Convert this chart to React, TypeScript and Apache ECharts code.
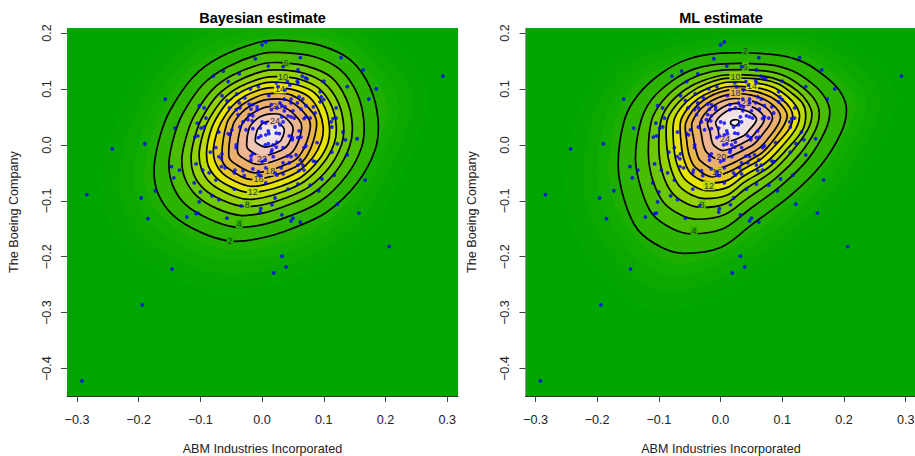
import React, { useEffect, useRef } from "react";
import * as echarts from "echarts";

const xRange = [-0.3162, 0.3175];
const yRange = [-0.449, 0.209];
const xTicks = [-0.3, -0.2, -0.1, 0, 0.1, 0.2, 0.3];
const yTicks = [-0.4, -0.3, -0.2, -0.1, 0, 0.1, 0.2];
const xName = "ABM Industries Incorporated";
const yName = "The Boeing Company";
const titles = ["Bayesian estimate", "ML estimate"];

const returns = [
[-.011,.154],[-.079,.123],[-.063,.132],[-.037,.127],[-.055,.113],[-.157,.082],[-.102,.070],[-.094,.066],[-.065,.088],[-.057,.079],
[-.041,.091],[-.019,.100],[-.006,.104],[-.028,.084],[-.037,.075],[-.053,.066],[-.036,.066],[-.042,.063],[-.039,.054],[-.021,.073],
[-.015,.072],[-.008,.068],[-.018,.064],[-.021,.054],[-.015,.052],[-.008,.063],[-.023,.045],[-.016,.043],[-.031,.041],[-.091,.048],
[-.105,.039],[-.099,.030],[-.094,.032],[-.141,.030],[-.190,.002],[-.243,-.007],[-.109,.014],[-.104,.016],[-.070,.023],[-.055,.020],
[-.052,.018],[-.049,.027],[-.036,.032],[-.026,.027],[-.015,.029],[-.006,.013],[-.042,.000],[-.042,-.005],[-.075,-.005],[.006,.184],
[.000,.179],[.062,.156],[.128,.156],[.164,.134],[.293,.123],[.010,.141],[.034,.140],[.058,.134],[.065,.123],[.070,.120],
[.073,.118],[.100,.114],[.138,.104],[.185,.100],[.173,.082],[.041,.113],[.045,.107],[.057,.114],[.058,.111],[.023,.111],
[.026,.104],[.037,.098],[.094,.095],[.096,.086],[.100,.081],[.094,.077],[.011,.088],[.036,.082],[.047,.082],[.060,.086],
[.066,.082],[.029,.075],[.047,.075],[.057,.075],[.071,.070],[.083,.068],[.015,.072],[.032,.070],[.037,.068],[.024,.066],
[.015,.063],[.036,.061],[.050,.061],[.063,.064],[.086,.057],[.120,.066],[.042,.052],[.047,.050],[.052,.048],[.071,.050],
[.068,.047],[.078,.048],[.032,.050],[.034,.041],[.029,.036],[.000,.041],[.006,.039],[.120,.048],[.115,.047],[.112,.041],
[.113,.032],[.021,.032],[.060,.025],[-.003,.030],[.011,.020],[.006,.018],[.023,.021],[.028,.020],[-.002,.016],[.044,.016],
[.049,.013],[.049,.009],[.058,.013],[.063,.014],[.131,.023],[.135,.009],[.154,.011],[.122,.002],[.089,.004],[.071,-.002],
[.068,-.005],[.005,.000],[.010,.002],[.018,.000],[.034,-.005],[.023,-.004],[.010,.025],[.024,.005],[.016,-.009],[.113,-.013],
[.138,-.018],[.015,-.013],[.041,-.020],[.047,-.021],[.055,-.018],[.018,-.021],[.062,-.027],[.066,-.036],[.083,-.029],[.086,-.030],
[.005,-.027],[.000,-.030],[.034,-.032],[.044,-.032],[.058,-.036],[.006,-.041],[.031,-.041],[.068,-.045],[.060,-.046],[.021,-.050],
[.034,-.052],[.024,-.054],[-.002,-.055],[.117,-.054],[.097,-.061],[.167,-.063],[.006,-.068],[.058,-.070],[.078,-.072],[.042,-.079],
[.092,-.082],[.021,-.095],[.016,-.107],[.122,-.106],[-.002,-.114],[-.003,-.120],[.157,-.122],[.032,-.125],[.050,-.131],[.047,-.136],
[.062,-.138],[.206,-.182],[.032,-.199],[.039,-.218],[.019,-.229],[-.147,-.039],[-.134,-.045],[-.143,-.059],[-.173,-.082],[-.284,-.089],
[-.196,-.095],[-.185,-.132],[-.146,-.222],[-.107,-.034],[-.096,-.045],[-.086,-.050],[-.084,-.013],[-.070,-.021],[-.065,-.016],[-.066,-.025],
[-.066,-.039],[-.060,-.041],[-.044,-.045],[-.045,-.050],[-.031,-.046],[-.029,-.055],[-.015,-.043],[-.006,-.048],[-.006,-.054],[-.018,-.020],
[-.015,-.016],[-.018,-.027],[-.075,-.063],[-.110,-.068],[-.100,-.084],[-.045,-.079],[-.081,-.091],[-.070,-.098],[-.102,-.102],[-.034,-.109],
[-.122,-.129],[-.107,-.123],[-.104,-.122],[-.057,-.131],[-.194,-.286],[-.292,-.422],
];

// Bayesian panel: outer shading levels, then contours
const bayesA = [[.267,.054],[.146,-.183],[-.081,-.259],[-.251,-.134],[-.222,.080],[-.104,.218],[.130,.249],[.248,.140]];
const bayesB = [[.241,.051],[.133,-.162],[-.072,-.230],[-.224,-.118],[-.198,.074],[-.092,.198],[.118,.225],[.224,.128]];
const bayesC = [[.220,.048],[.122,-.145],[-.064,-.207],[-.202,-.105],[-.178,.069],[-.083,.181],[.109,.206],[.204,.118]];
const bayesD = [[.202,.046],[.112,-.131],[-.057,-.187],[-.184,-.095],[-.162,.065],[-.074,.168],[.100,.191],[.188,.110]];
const bayes2 = [[.188,.044],[.183,-.009],[.154,-.068],[.105,-.120],[.050,-.149],[-.003,-.167],[-.052,-.172],[-.100,-.156],[-.144,-.126],[-.169,-.086],[-.175,-.040],[-.165,.017],[-.149,.062],[-.112,.121],[-.068,.157],[-.003,.184],[.037,.187],[.094,.178],[.143,.152],[.175,.103]];
const bayes4 = [[.165,.041],[.161,-.005],[.136,-.056],[.093,-.102],[.045,-.127],[-.001,-.143],[-.044,-.147],[-.085,-.133],[-.124,-.107],[-.145,-.072],[-.151,-.032],[-.142,.018],[-.128,.057],[-.096,.108],[-.057,.139],[-.001,.163],[.034,.165],[.083,.158],[.126,.135],[.154,.092]];
const bayes6 = [[.146,.038],[.142,-.002],[.120,-.047],[.083,-.086],[.041,-.108],[.001,-.122],[-.036,-.126],[-.073,-.114],[-.106,-.091],[-.125,-.060],[-.130,-.025],[-.122,.018],[-.110,.052],[-.082,.097],[-.049,.124],[.001,.145],[.031,.147],[.075,.140],[.112,.121],[.136,.083]];
const bayes8 = [[.132,.037],[.129,.001],[.109,-.040],[.076,-.075],[.038,-.095],[.002,-.107],[-.031,-.110],[-.064,-.099],[-.094,-.079],[-.111,-.052],[-.115,-.020],[-.108,.018],[-.097,.049],[-.072,.089],[-.042,.113],[.002,.132],[.029,.134],[.068,.128],[.101,.110],[.123,.077]];
const bayes10 = [[.120,.035],[.117,.003],[.099,-.033],[.069,-.065],[.036,-.083],[.003,-.094],[-.027,-.097],[-.056,-.087],[-.083,-.069],[-.098,-.044],[-.102,-.016],[-.096,.019],[-.086,.046],[-.063,.082],[-.036,.104],[.003,.120],[.028,.122],[.062,.117],[.092,.101],[.112,.071]];
const bayes12 = [[.109,.034],[.107,.004],[.091,-.028],[.064,-.057],[.033,-.073],[.004,-.082],[-.023,-.085],[-.049,-.076],[-.073,-.060],[-.087,-.038],[-.090,-.013],[-.085,.019],[-.076,.044],[-.056,.076],[-.032,.096],[.004,.111],[.026,.112],[.058,.107],[.085,.093],[.102,.066]];
const bayes14 = [[.099,.032],[.096,.006],[.082,-.023],[.058,-.048],[.031,-.062],[.005,-.071],[-.019,-.074],[-.042,-.066],[-.064,-.051],[-.076,-.031],[-.079,-.009],[-.074,.019],[-.066,.041],[-.048,.070],[-.027,.088],[.005,.101],[.025,.102],[.053,.098],[.077,.085],[.092,.061]];
const bayes16 = [[.088,.031],[.074,-.017],[.053,-.040],[-.015,-.062],[-.055,-.042],[-.065,-.025],[-.057,.039],[-.041,.064],[-.022,.079],[.006,.091],[.048,.089],[.083,.056]];
const bayes18 = [[.078,.030],[.065,-.012],[.047,-.031],[-.011,-.050],[-.045,-.033],[-.054,-.019],[-.047,.036],[-.033,.058],[-.017,.071],[.007,.081],[.043,.079],[.073,.051]];
const bayes20 = [[.064,.028],[.054,-.005],[.040,-.020],[-.006,-.035],[-.033,-.022],[-.040,-.010],[-.034,.033],[-.023,.050],[-.010,.060],[.008,.068],[.036,.067],[.060,.045]];
const bayes22 = [[.050,.026],[.043,.002],[.032,-.009],[-.001,-.020],[-.020,-.010],[-.025,-.001],[-.021,.030],[-.013,.042],[-.004,.050],[.010,.055],[.030,.054],[.047,.038]];
const bayes24 = [[.036,.024],[.031,.009],[.025,.003],[.005,-.004],[-.007,.002],[-.011,.007],[-.008,.026],[-.003,.034],[.002,.039],[.011,.042],[.024,.041],[.034,.032]];
const bayes25 = [[.024,.022],[.019,.013],[.009,.009],[.002,.015],[.003,.023],[.008,.029],[.018,.030],[.023,.026]];

// ML panel
const mlA = [[.286,.072],[.155,-.148],[-.095,-.299],[-.236,-.161],[-.236,.046],[-.149,.168],[.121,.216],[.238,.158]];
const mlB = [[.259,.069],[.142,-.129],[-.083,-.264],[-.209,-.140],[-.209,.046],[-.131,.155],[.110,.198],[.216,.146]];
const mlC = [[.237,.066],[.131,-.113],[-.074,-.236],[-.188,-.124],[-.188,.045],[-.117,.144],[.102,.183],[.198,.136]];
const mlD = [[.219,.064],[.121,-.100],[-.065,-.213],[-.170,-.110],[-.170,.044],[-.105,.135],[.095,.171],[.183,.128]];
const ml2 = [[.204,.062],[.195,.021],[.163,-.036],[.114,-.090],[.050,-.143],[.001,-.183],[-.059,-.194],[-.096,-.183],[-.134,-.152],[-.156,-.099],[-.166,-.036],[-.156,.044],[-.134,.089],[-.096,.128],[-.053,.153],[.001,.164],[.090,.161],[.134,.148],[.171,.121],[.195,.093]];
const ml4 = [[.177,.059],[.169,.024],[.142,-.025],[.100,-.071],[.046,-.116],[.004,-.150],[-.047,-.159],[-.078,-.150],[-.111,-.123],[-.129,-.078],[-.138,-.025],[-.129,.043],[-.111,.082],[-.078,.115],[-.042,.136],[.004,.145],[.080,.143],[.117,.132],[.149,.109],[.169,.085]];
const ml6 = [[.160,.056],[.153,.025],[.128,-.017],[.091,-.058],[.043,-.096],[.006,-.125],[-.038,-.133],[-.065,-.125],[-.093,-.102],[-.110,-.063],[-.117,-.017],[-.112,.043],[-.095,.077],[-.067,.106],[-.034,.125],[.006,.134],[.074,.132],[.107,.122],[.135,.101],[.153,.080]];
const ml8 = [[.148,.055],[.141,.027],[.116,-.011],[.084,-.047],[.040,-.079],[.008,-.105],[-.031,-.112],[-.055,-.105],[-.079,-.085],[-.094,-.051],[-.100,-.010],[-.097,.042],[-.083,.073],[-.057,.099],[-.028,.115],[.008,.125],[.069,.123],[.099,.114],[.125,.096],[.141,.076]];
const ml10 = [[.138,.054],[.133,.027],[.108,-.007],[.078,-.040],[.038,-.067],[.010,-.090],[-.025,-.096],[-.046,-.090],[-.068,-.072],[-.081,-.041],[-.087,-.005],[-.087,.042],[-.073,.070],[-.050,.093],[-.024,.109],[.009,.119],[.066,.117],[.094,.109],[.117,.091],[.133,.074]];
const ml12 = [[.128,.052],[.122,.029],[.100,-.002],[.073,-.032],[.037,-.056],[.011,-.076],[-.020,-.082],[-.039,-.076],[-.059,-.060],[-.071,-.033],[-.076,.000],[-.076,.042],[-.064,.067],[-.043,.088],[-.019,.102],[.010,.112],[.061,.110],[.087,.102],[.108,.087],[.122,.070]];
const ml14 = [[.117,.051],[.112,.030],[.091,.002],[.067,-.024],[.035,-.045],[.012,-.063],[-.015,-.068],[-.032,-.063],[-.050,-.049],[-.060,-.024],[-.064,.004],[-.065,.041],[-.054,.064],[-.036,.083],[-.015,.095],[.011,.104],[.057,.102],[.080,.096],[.099,.082],[.112,.067]];
const ml16 = [[.108,.050],[.084,.006],[.062,-.018],[-.011,-.057],[-.042,-.039],[-.051,-.018],[-.055,.008],[-.056,.041],[-.030,.078],[.012,.098],[.054,.096],[.092,.078]];
const ml18 = [[.097,.048],[.076,.010],[.057,-.010],[-.006,-.043],[-.033,-.028],[-.040,-.009],[-.044,.013],[-.046,.041],[-.023,.073],[.013,.090],[.050,.089],[.083,.073]];
const ml20 = [[.084,.047],[.066,.016],[.051,-.001],[-.001,-.026],[-.022,-.014],[-.028,.000],[-.031,.018],[-.033,.041],[-.015,.067],[.015,.082],[.045,.080],[.073,.067]];
const ml22 = [[.071,.045],[.056,.021],[.044,.008],[.005,-.010],[-.011,-.001],[-.015,.010],[-.017,.023],[-.021,.040],[-.006,.060],[.016,.073],[.040,.072],[.062,.061]];
const ml24 = [[.058,.044],[.046,.026],[.038,.017],[.011,.006],[.000,.012],[-.003,.020],[-.004,.028],[-.008,.040],[.002,.054],[.018,.064],[.036,.063],[.052,.055]];
const ml25 = [[.040,.041],[.030,.027],[.016,.021],[.009,.029],[.007,.039],[.012,.047],[.029,.051],[.037,.047]];
const ml26 = [[.016,.039],[.020,.035],[.026,.035],[.030,.042],[.026,.045],[.019,.044]];

const bayesLabels = [[-.052,-.172,2],[-.037,-.141,4],[-.024,-.107,8],[-.015,-.084,12],[-.006,-.061,16],[.013,-.047,18],[.000,-.025,22],[.039,.147,6],[.034,.122,10],[.029,.100,14],[.024,.070,20],[.021,.043,24]];
const mlLabels = [[.040,.168,2],[.040,.140,6],[.024,.122,10],[.051,.106,14],[.024,.093,18],[.041,.075,22],[.007,.011,24],[.001,-.021,20],[-.006,-.048,16],[-.019,-.073,12],[-.030,-.107,8],[-.043,-.154,4]];

const bandColors = ["rgb(3,167,0)","rgb(9,169,0)","rgb(17,172,0)","rgb(28,175,0)","rgb(42,180,0)","rgb(73,190,0)","rgb(108,200,0)","rgb(145,210,0)","rgb(186,220,0)","rgb(230,230,0)","rgb(232,201,36)","rgb(233,183,72)","rgb(235,176,109)","rgb(237,181,146)","rgb(239,197,184)","rgb(241,224,223)","rgb(242,236,236)"];

const bayesFills = [bayesA,bayesB,bayesC,bayesD,bayes2,bayes4,bayes6,bayes8,bayes10,bayes12,bayes14,bayes16,bayes18,bayes20,bayes22,bayes24,bayes25];
const mlFills = [mlA,mlB,mlC,mlD,ml2,ml4,ml6,ml8,ml10,ml12,ml14,ml16,ml18,ml20,ml22,ml24,ml25];
const bayesLines = [bayes2,bayes4,bayes6,bayes8,bayes10,bayes12,bayes14,bayes16,bayes18,bayes20,bayes22,bayes24];
const mlLines = [ml2,ml4,ml6,ml8,ml10,ml12,ml14,ml16,ml18,ml20,ml22,ml24,ml26];

const FONT = "Liberation Sans";
const SMOOTH = 0.34;
const fmt = (v: number) => (v < 0 ? "\u2212" + Math.abs(v).toFixed(1) : v.toFixed(1));

function panelSeries(i: number, fills: number[][][], lines: number[][][], labels: number[][]) {
  const axes = { xAxisIndex: i, yAxisIndex: i, clip: true, silent: true };
  const poly = (pts: number[][], api: any, style: any) => ({
    type: "polygon",
    shape: { points: pts.map((p) => api.coord(p)), smooth: SMOOTH },
    style,
  });
  return [
    {
      type: "custom", ...axes, z: 2,
      data: fills.map((_, k) => [k]),
      encode: { x: 0 },
      renderItem: (_: any, api: any) => {
        const k = api.value(0);
        return poly(fills[k], api, { fill: bandColors[k], stroke: "none" });
      },
    },
    {
      type: "custom", ...axes, z: 3,
      data: lines.map((_, k) => [k]),
      encode: { x: 0 },
      renderItem: (_: any, api: any) =>
        poly(lines[api.value(0)], api, { fill: "none", stroke: "#000", lineWidth: 1.7 }),
    },
    {
      type: "custom", ...axes, z: 4,
      data: labels,
      encode: { x: 0, y: 1 },
      renderItem: (_: any, api: any) => {
        const c = api.coord([api.value(0), api.value(1)]);
        const lv = api.value(2);
        const band = bandColors[Math.min(2 + lv / 2, bandColors.length - 1)];
        return {
          type: "text",
          x: c[0], y: c[1],
          style: {
            text: String(lv), fill: "#333", font: `9px ${FONT}`,
            align: "center", verticalAlign: "middle",
            backgroundColor: band, padding: [0, 1],
          },
        };
      },
    },
    {
      type: "scatter", xAxisIndex: i, yAxisIndex: i, z: 5, silent: true,
      symbolSize: 3.8, itemStyle: { color: "#0000FF" },
      data: returns,
    },
  ];
}

function axisBase(ticks: number[]) {
  return {
    axisTick: { show: true, length: 6, lineStyle: { color: "#444", width: 1 }, customValues: ticks },
    splitLine: { show: false },
    nameLocation: "middle",
    nameTextStyle: { fontFamily: FONT, fontSize: 12.6, color: "#222" },
  };
}

export default function App() {
  const ref = useRef<HTMLDivElement>(null);
  useEffect(() => {
    document.body.style.margin = "0";
    const chart = echarts.init(ref.current!, null, { renderer: "svg" });
    const lefts = [67, 525.5];
    chart.setOption({
      animation: false,
      backgroundColor: "#fff",
      title: titles.map((t, i) => ({
        text: t, left: lefts[i] + 190.5, top: 5, textAlign: "center",
        textStyle: { fontFamily: FONT, fontSize: 14.5, fontWeight: "bold", color: "#000" },
      })),
      grid: lefts.map((l) => ({
        left: l, top: 28, width: 391, height: 368, show: true,
        backgroundColor: "#00A600", borderWidth: 0, containLabel: false, outerBoundsMode: "none",
      })),
      xAxis: lefts.map((_, i) => ({
        type: "value", gridIndex: i, min: xRange[0], max: xRange[1], position: "bottom",
        ...axisBase(xTicks),
        name: xName, nameGap: 46,
        axisLine: { show: true, onZero: false, lineStyle: { color: "#333", width: 1 } },
        axisLabel: {
          customValues: xTicks, formatter: fmt, margin: 17, hideOverlap: false,
          fontFamily: FONT, fontSize: 12.6, color: "#222",
        },
      })),
      yAxis: lefts.map((_, i) => ({
        type: "value", gridIndex: i, min: yRange[0], max: yRange[1], position: "left",
        ...axisBase(yTicks),
        name: yName, nameGap: 47,
        axisLine: { show: i === 1, onZero: false, lineStyle: { color: "#999", width: 1 } },
        axisLabel: {
          customValues: yTicks, formatter: fmt, rotate: 90, margin: 14, hideOverlap: false,
          fontFamily: FONT, fontSize: 12.6, color: "#222",
          align: "center", verticalAlign: "bottom",
        },
      })),
      series: [
        ...panelSeries(0, bayesFills, bayesLines, bayesLabels),
        ...panelSeries(1, mlFills, mlLines, mlLabels),
      ],
    });
    return () => chart.dispose();
  }, []);
  return <div ref={ref} style={{ width: 915, height: 456 }} />;
}
